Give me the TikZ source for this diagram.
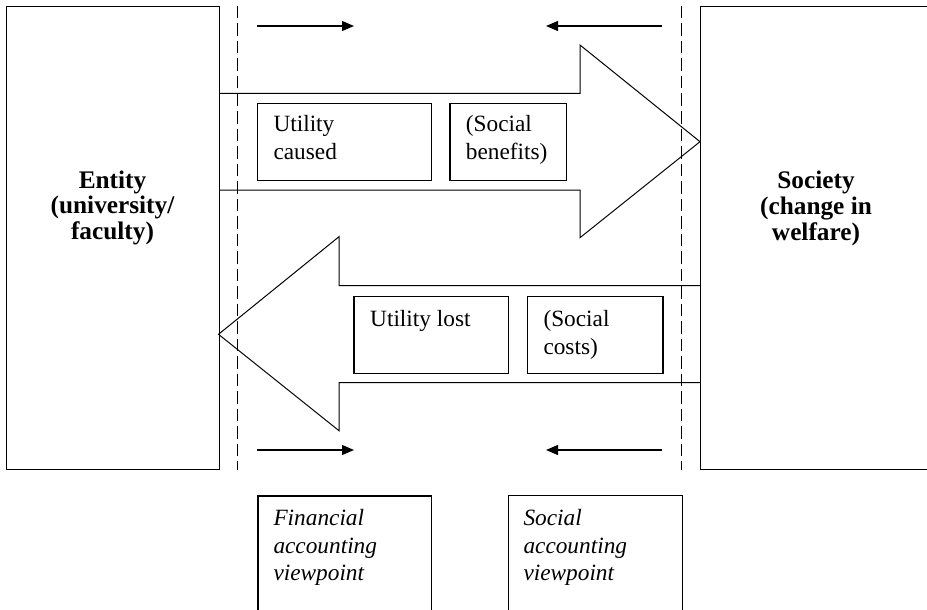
\documentclass[tikz,border=0pt]{standalone}
\usepackage{fontspec}
\setmainfont{Liberation Serif}
\usetikzlibrary{arrows.meta}

\begin{document}
\begin{tikzpicture}[x=1pt,y=-1pt,
  frame/.style={draw, line width=1.2pt, inner sep=0pt, anchor=north west},
  blockarrow/.style={draw, line width=1pt, line join=miter},
  divider/.style={line width=1pt, dash pattern=on 12.5pt off 5pt},
  flow/.style={line width=1.2pt, -{Triangle[length=12pt,width=10pt]}},
  body/.style={anchor=base west, inner sep=0pt, font=\fontsize{23.3}{27.4}\selectfont},
  title/.style={anchor=base, inner sep=0pt, font=\fontsize{25.3}{25.6}\selectfont\bfseries}
]
\useasboundingbox (0,0) rectangle (927,610);

% side boxes
\node[frame, minimum width=213pt, minimum height=463pt] (entity) at (6,6) {};
\node[frame, minimum width=240pt, minimum height=463pt] (society) at (700,6) {};
\node[title] (entitytxt) at (112.5,188) {\begin{tabular}[t]{@{}c@{}}Entity\\(university/\\faculty)\end{tabular}};
\node[title] (societytxt) at (816,188.8) {\begin{tabular}[t]{@{}c@{}}Society\\(change in\\welfare)\end{tabular}};

% viewpoint dividers
\coordinate (dl1) at (237.5,6);
\coordinate (dl2) at (237.5,470);
\coordinate (dr1) at (681,6);
\coordinate (dr2) at (681,470);
\draw[divider] (dl1) -- (dl2);
\draw[divider] (dr1) -- (dr2);

% block arrow: entity to society
\draw[blockarrow] (219,93.3) -- (580,93.3) -- (580,45) -- (700,141.7)
  -- (580,237.7) -- (580,190) -- (219,190);
% block arrow: society to entity
\draw[blockarrow] (700,285.7) -- (339,285.7) -- (339,236.7) -- (218.5,334.3)
  -- (339,430.7) -- (339,382.7) -- (700,382.7);

% boxes inside the arrows
\node[frame, minimum width=174pt, minimum height=77.3pt] (caused) at (256.7,102.7) {};
\node[frame, minimum width=116.4pt, minimum height=77.3pt] (benefits) at (449.3,102.7) {};
\node[frame, minimum width=154.4pt, minimum height=77pt] (lost) at (353.3,295.7) {};
\node[frame, minimum width=135.6pt, minimum height=77pt] (costs) at (526.7,295.7) {};
\node[body] (causedtxt) at (273.3,131.7) {\begin{tabular}[t]{@{}l@{}}Utility\\caused\end{tabular}};
\node[body] (benefitstxt) at (465.7,131.7) {\begin{tabular}[t]{@{}l@{}}(Social\\benefits)\end{tabular}};
\node[body] (losttxt) at (370,326.7) {Utility lost};
\node[body] (coststxt) at (543.3,326.7) {\begin{tabular}[t]{@{}l@{}}(Social\\costs)\end{tabular}};

% direction arrows
\coordinate (tl1) at (257,26);  \coordinate (tl2) at (354,26);
\coordinate (tr1) at (662,26);  \coordinate (tr2) at (546,26);
\coordinate (bl1) at (257,450); \coordinate (bl2) at (354,450);
\coordinate (br1) at (662,450); \coordinate (br2) at (546,450);
\draw[flow] (tl1) -- (tl2);
\draw[flow] (tr1) -- (tr2);
\draw[flow] (bl1) -- (bl2);
\draw[flow] (br1) -- (br2);

% viewpoint boxes
\node[frame, minimum width=173.4pt, minimum height=130pt] (finview) at (257.3,495.3) {};
\node[frame, minimum width=174pt, minimum height=130pt] (socview) at (507.7,495) {};
\node[body] (finviewtxt) at (273.3,525.7) {\itshape\begin{tabular}[t]{@{}l@{}}Financial\\accounting\\viewpoint\end{tabular}};
\node[body] (socviewtxt) at (523.3,525.7) {\itshape\begin{tabular}[t]{@{}l@{}}Social\\accounting\\viewpoint\end{tabular}};
\end{tikzpicture}
\end{document}
